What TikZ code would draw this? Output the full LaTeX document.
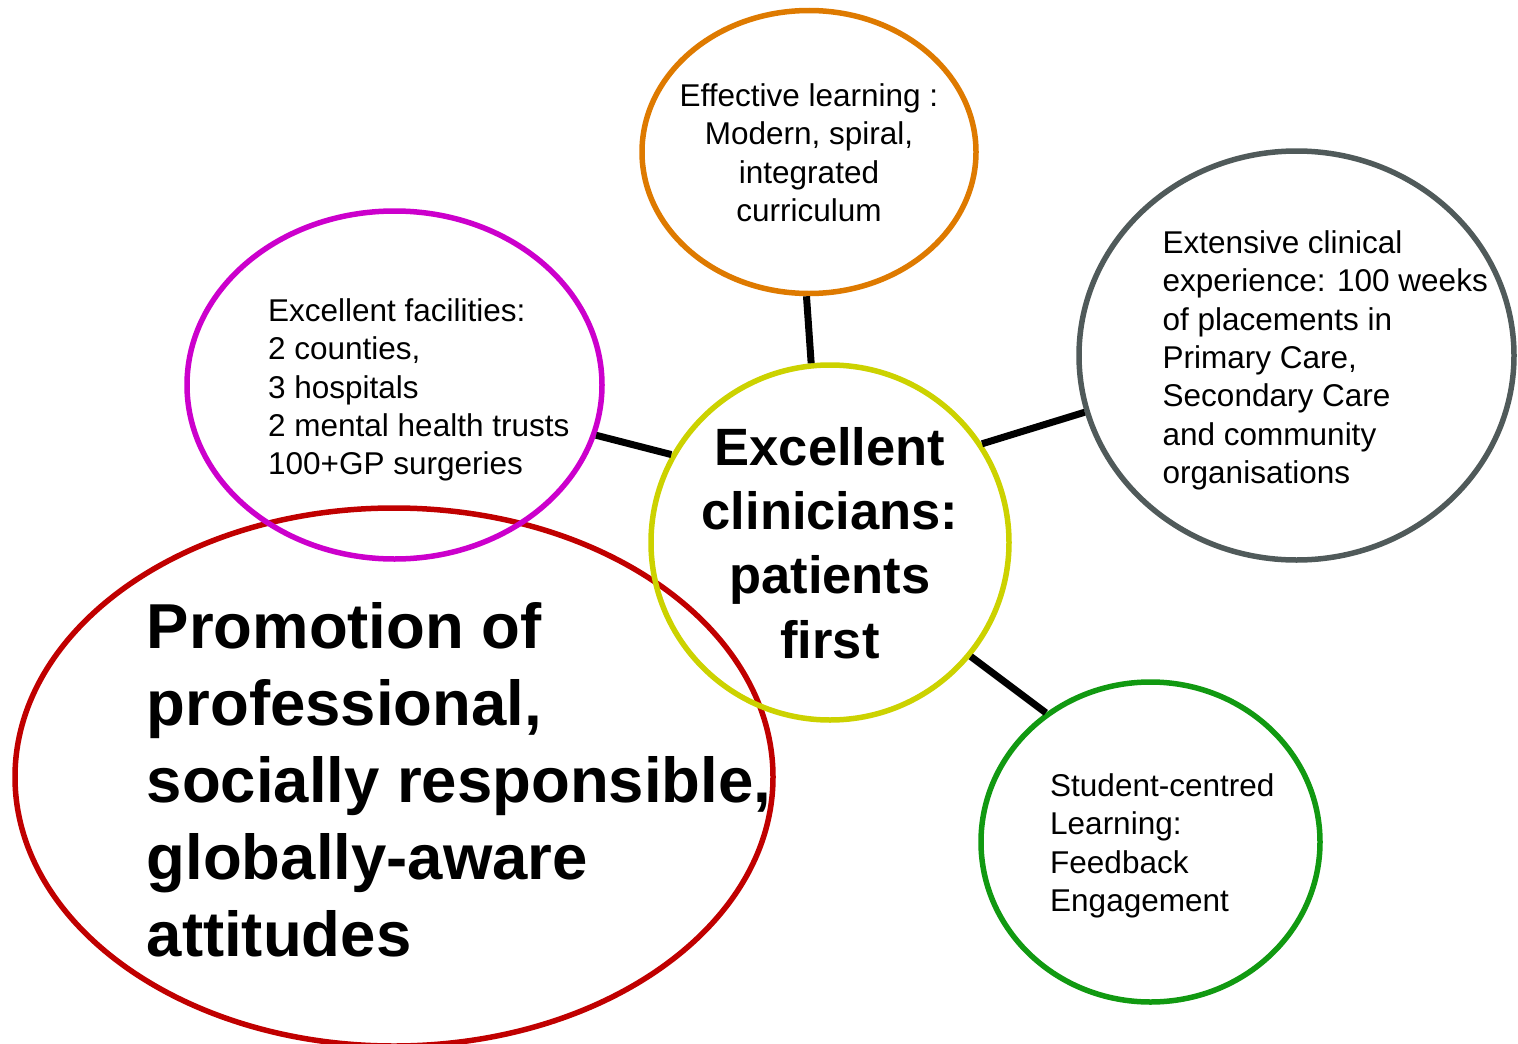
\documentclass[tikz,border=0pt]{standalone}
\usepackage{fontspec}
\setmainfont{Liberation Sans}
\usetikzlibrary{shapes.geometric}
\definecolor{hubyellow}{RGB}{204,210,0}
\definecolor{learnorange}{RGB}{222,122,0}
\definecolor{clingray}{RGB}{80,90,90}
\definecolor{studgreen}{RGB}{17,153,17}
\definecolor{facmagenta}{RGB}{204,0,204}
\definecolor{promred}{RGB}{192,0,0}
\tikzset{
	bubble/.style={draw, ellipse, line width=5.5pt, inner sep=0pt},
	smalltext/.style={inner sep=0pt, font=\fontsize{31.5}{38.3}\selectfont},
	link/.style={draw, line width=7pt}
}

\begin{document}
\begin{tikzpicture}[x=1pt, y=-1pt]
		\useasboundingbox (0,0) rectangle (1518,1044);
		
		\node[bubble, draw=promred, minimum width=758pt, minimum height=538pt] (prom) at (394,777) {};
		\node[bubble, draw=facmagenta, minimum width=415pt, minimum height=348pt] (fac) at (394.5,385) {};
		\node[bubble, draw=learnorange, minimum width=334pt, minimum height=283pt] (learn) at (809,152) {};
		\node[bubble, draw=clingray, minimum width=435pt, minimum height=409pt] (clin) at (1296.5,355.5) {};
		\node[bubble, draw=studgreen, minimum width=339pt, minimum height=320pt] (stud) at (1150.5,842) {};
		\node[bubble, draw=hubyellow, minimum width=358pt, minimum height=355pt] (hub) at (830,542.5) {};
		
		\draw[link] (hub.96.6) -- (learn.269);
		\draw[link] (hub.33.2) -- (clin.195.8);
		\draw[link] (hub.-39.3) -- (stud.129.4);
		\draw[link] (hub.151.2) -- (fac.346.4);
		
		\node[inner sep=0pt, anchor=north, align=center, font=\fontsize{52.5}{64.3}\selectfont\bfseries] (hubtext) at (830,427) {Excellent\\clinicians:\\patients\\first};
		\node[smalltext, anchor=north, align=center] (learntext) at (809,83.5) {Effective learning :\\Modern, spiral,\\integrated\\curriculum};
		\node[smalltext, anchor=north west, align=left] (clintext) at (1162.5,230.5) {Extensive clinical\\experience: 100 weeks\\of placements in\\Primary Care,\\Secondary Care\\and community\\organisations};
		\node[smalltext, anchor=north west, align=left] (studtext) at (1050,773.5) {Student-centred\\Learning:\\Feedback\\Engagement};
		\node[smalltext, anchor=north west, align=left] (factext) at (268,298.5) {Excellent facilities:\\2 counties,\\3 hospitals\\2 mental health trusts\\100+GP surgeries};
		\node[inner sep=0pt, anchor=north west, align=left, font=\fontsize{63.5}{77}\selectfont\bfseries] (promtext) at (146.5,602) {Promotion of\\professional,\\socially responsible,\\globally-aware\\attitudes};
	\end{tikzpicture}
\end{document}
